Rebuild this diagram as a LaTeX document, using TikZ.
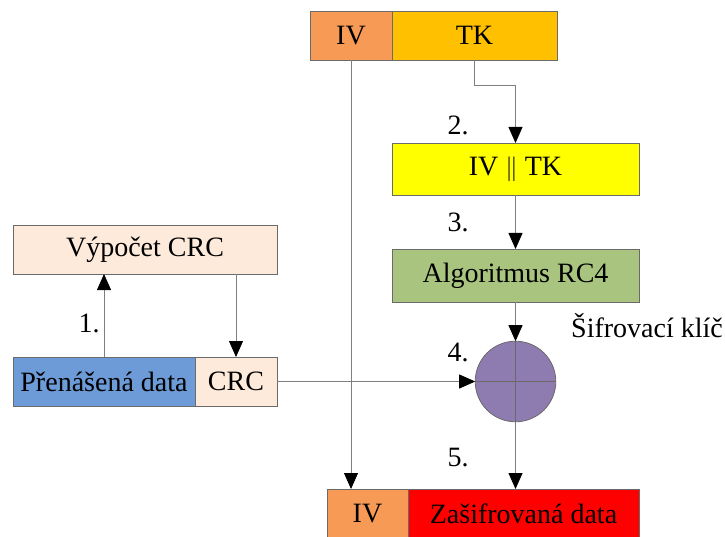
\documentclass[tikz,border=0pt]{standalone}
\usepackage{fontspec}
\setmainfont{Liberation Serif}
\usetikzlibrary{arrows.meta,calc}
\definecolor{ivor}{HTML}{F79A56}
\definecolor{tkor}{HTML}{FFC000}
\definecolor{yel}{HTML}{FFFF00}
\definecolor{grn}{HTML}{A8C47E}
\definecolor{purp}{HTML}{8E7BB0}
\definecolor{blu}{HTML}{6C9BD8}
\definecolor{peach}{HTML}{FDEADA}
\definecolor{red1}{HTML}{FF0000}
\definecolor{bord}{HTML}{6A6A6A}
\definecolor{linec}{HTML}{7F7F7F}
\tikzset{
  box/.style={draw=bord, line width=0.8pt, inner sep=0pt, outer sep=0pt, anchor=north west,
    font=\fontsize{28}{32}\selectfont},
  conn/.style={draw=linec, line width=0.8pt},
  arr/.style={conn, -{Triangle[length=16pt,width=14pt,black]}},
  lab/.style={font=\fontsize{28}{32}\selectfont, inner sep=0pt},
}
\begin{document}
\begin{tikzpicture}[x=1pt,y=-1pt]
\useasboundingbox (0,0) rectangle (725,537);
% top
\node[box, fill=ivor, minimum width=82pt, minimum height=49pt] (iv1) at (310,11) {IV};
\node[box, fill=tkor, minimum width=165pt, minimum height=49pt] (tk) at (392,11) {TK};
\node[box, fill=yel, minimum width=247pt, minimum height=52pt] (ivtk) at (392,143) {IV $\|$ TK};
\node[box, fill=grn, minimum width=247pt, minimum height=53pt] (rc4) at (392,249) {Algoritmus RC4};
\node[draw=bord, line width=0.8pt, fill=purp, circle, minimum size=80.6pt, inner sep=0pt, outer sep=0pt] (xor) at (515.5,381.5) {};
\draw[draw=bord, line width=0.8pt] (xor.north) -- (xor.south) (xor.west) -- (xor.east);
% left
\node[box, fill=peach, minimum width=264pt, minimum height=49pt] (vyp) at (13,225) {Výpočet CRC};
\node[box, fill=blu, minimum width=182pt, minimum height=49pt] (data) at (13,357) {Přenášená data};
\node[box, fill=peach, minimum width=82pt, minimum height=49pt] (crc) at (195,357) {CRC};
% bottom
\node[box, fill=ivor, minimum width=81pt, minimum height=50pt] (iv2) at (327,489) {IV};
\node[box, fill=red1, minimum width=231pt, minimum height=50pt] (zas) at (408,489) {Zašifrovaná data};
% connectors
\draw[arr] (tk.south) -- ++(0,25.7) -| (ivtk.north);
\draw[arr] (ivtk.south) -- (rc4.north);
\draw[arr] (rc4.south) -- (xor.north);
\draw[arr] (xor.south) -- (xor.south |- zas.north);
\draw[arr] (iv1.south) -- (iv1.south |- iv2.north);
\draw[arr] (data.north) -- (data.north |- vyp.south);
\draw[arr] (crc.north |- vyp.south) -- (crc.north);
\draw[arr] (crc.east) -- (xor.west);
% labels
\node[lab] (l1) at (89,323) {1.};
\node[lab] (l2) at (458,125) {2.};
\node[lab] (l3) at (458,222) {3.};
\node[lab] (l4) at (458,352) {4.};
\node[lab] (l5) at (458,458) {5.};
\node[lab, anchor=west] (key) at (571,326) {Šifrovací klíč};
\end{tikzpicture}
\end{document}
